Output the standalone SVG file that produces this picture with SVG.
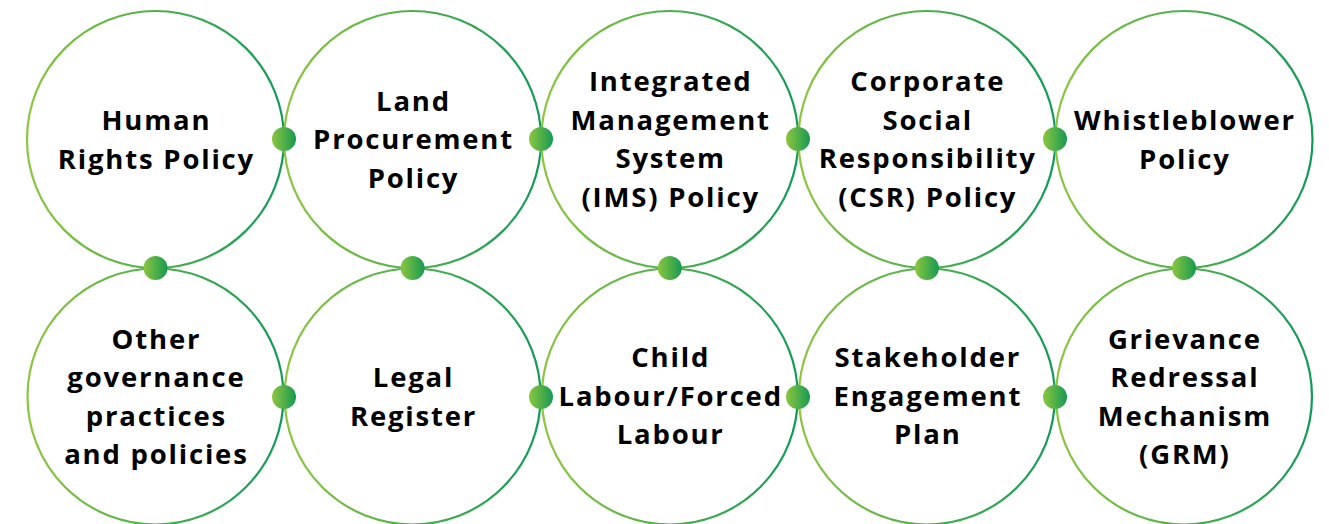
<svg xmlns="http://www.w3.org/2000/svg" width="1329" height="524" viewBox="0 0 1329 524">
  <defs>
    <linearGradient id="ring" x1="0" y1="0" x2="1" y2="0">
      <stop offset="0" stop-color="#8dc63f"/>
      <stop offset="1" stop-color="#0f9b58"/>
    </linearGradient>
    <linearGradient id="dot" x1="0" y1="0" x2="1" y2="0">
      <stop offset="0" stop-color="#8dc63f"/>
      <stop offset="1" stop-color="#169a52"/>
    </linearGradient>
    <style>
      .ring { fill: #ffffff; stroke: url(#ring); stroke-width: 2.2; }
      .dot { fill: url(#dot); }
      .lbl { font-family: "Open Sans", "Liberation Sans", sans-serif; font-weight: 700; font-size: 27.5px; letter-spacing: 1.8px; fill: #000000; text-anchor: middle; }
    </style>
  </defs>

  <g id="node-human-rights">
    <circle class="ring" cx="155.5" cy="139.5" r="128.5"/>
    <text class="lbl"><tspan x="156.4" y="130">Human</tspan><tspan x="156.4" y="168.5">Rights Policy</tspan></text>
  </g>
  <g id="node-land-procurement">
    <circle class="ring" cx="412.6" cy="139.5" r="128.5"/>
    <text class="lbl"><tspan x="413.5" y="110.5">Land</tspan><tspan x="413.5" y="149">Procurement</tspan><tspan x="413.5" y="187.5">Policy</tspan></text>
  </g>
  <g id="node-ims">
    <circle class="ring" cx="669.8" cy="139.5" r="128.5"/>
    <text class="lbl"><tspan x="670.7" y="91">Integrated</tspan><tspan x="670.7" y="129.5">Management</tspan><tspan x="670.7" y="168">System</tspan><tspan x="670.7" y="206.5">(IMS) Policy</tspan></text>
  </g>
  <g id="node-csr">
    <circle class="ring" cx="926.9" cy="139.5" r="128.5"/>
    <text class="lbl"><tspan x="927.8" y="91">Corporate</tspan><tspan x="927.8" y="129.5">Social</tspan><tspan x="927.8" y="168">Responsibility</tspan><tspan x="927.8" y="206.5">(CSR) Policy</tspan></text>
  </g>
  <g id="node-whistleblower">
    <circle class="ring" cx="1184" cy="139.5" r="128.5"/>
    <text class="lbl"><tspan x="1184.9" y="130">Whistleblower</tspan><tspan x="1184.9" y="168.5">Policy</tspan></text>
  </g>

  <g id="node-other-governance">
    <circle class="ring" cx="155.5" cy="396.5" r="128"/>
    <text class="lbl"><tspan x="156.4" y="348.5">Other</tspan><tspan x="156.4" y="387">governance</tspan><tspan x="156.4" y="425.5">practices</tspan><tspan x="156.4" y="464">and policies</tspan></text>
  </g>
  <g id="node-legal-register">
    <circle class="ring" cx="412.6" cy="396.5" r="128"/>
    <text class="lbl"><tspan x="413.5" y="387">Legal</tspan><tspan x="413.5" y="425.5">Register</tspan></text>
  </g>
  <g id="node-child-labour">
    <circle class="ring" cx="669.8" cy="396.5" r="128"/>
    <text class="lbl"><tspan x="670.7" y="367">Child</tspan><tspan x="670.7" y="405.5">Labour/Forced</tspan><tspan x="670.7" y="444">Labour</tspan></text>
  </g>
  <g id="node-stakeholder">
    <circle class="ring" cx="926.9" cy="396.5" r="128"/>
    <text class="lbl"><tspan x="927.8" y="367">Stakeholder</tspan><tspan x="927.8" y="405.5">Engagement</tspan><tspan x="927.8" y="444">Plan</tspan></text>
  </g>
  <g id="node-grm">
    <circle class="ring" cx="1184" cy="396.5" r="128"/>
    <text class="lbl"><tspan x="1184.9" y="348.5">Grievance</tspan><tspan x="1184.9" y="387">Redressal</tspan><tspan x="1184.9" y="425.5">Mechanism</tspan><tspan x="1184.9" y="464">(GRM)</tspan></text>
  </g>

  <g id="connectors">
    <circle class="dot" cx="284" cy="139" r="12"/>
    <circle class="dot" cx="541" cy="139" r="12"/>
    <circle class="dot" cx="798" cy="139" r="12"/>
    <circle class="dot" cx="1055" cy="139" r="12"/>
    <circle class="dot" cx="284" cy="397" r="12"/>
    <circle class="dot" cx="541" cy="397" r="12"/>
    <circle class="dot" cx="798" cy="397" r="12"/>
    <circle class="dot" cx="1055" cy="397" r="12"/>
    <circle class="dot" cx="155.5" cy="268" r="12"/>
    <circle class="dot" cx="412.6" cy="268" r="12"/>
    <circle class="dot" cx="669.8" cy="268" r="12"/>
    <circle class="dot" cx="926.9" cy="268" r="12"/>
    <circle class="dot" cx="1184" cy="268" r="12"/>
  </g>
</svg>
